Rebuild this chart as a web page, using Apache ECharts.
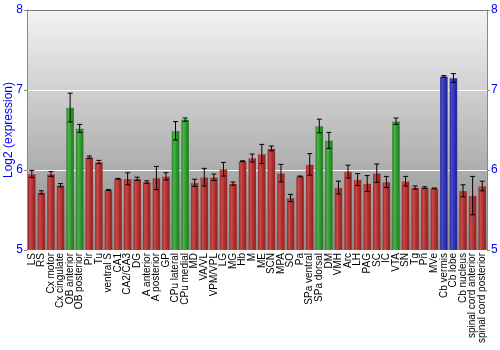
<!DOCTYPE html>
<html><head><meta charset="utf-8">
<script src="https://cdn.jsdelivr.net/npm/echarts@6/dist/echarts.min.js"></script>
<style>html,body{margin:0;padding:0;background:#fff}#c{width:500px;height:350px}</style>
</head><body><div id="c"></div>
<script>
const categories = ["LS","RS","Cx motor","Cx cingulate","OB anterior","OB posterior","Pir","Tu","ventral S","CA1","CA2/CA3","DG","A anterior","A posterior","GP","CPu lateral","CPu medial","MD","VA/VL","VPM/VPL","LG","MG","Hb","M","ME","SCN","MPA","SO","Pa","SPa ventral","SPa dorsal","DM","VMH","Arc","LH","PAG","SC","IC","VTA","SN","Tg","Pn","MVe","Cb vermis","Cb lobe","Cb nucleus","spinal cord anterior","spinal cord posterior"];
const values = [5.95,5.72,5.95,5.81,6.78,6.52,6.16,6.10,5.75,5.89,5.89,5.89,5.85,5.90,5.92,6.49,6.63,5.84,5.91,5.91,6.01,5.83,6.11,6.15,6.20,6.27,5.96,5.65,5.92,6.07,6.55,6.37,5.78,5.98,5.88,5.83,5.96,5.85,6.61,5.86,5.78,5.78,5.77,7.17,7.15,5.74,5.68,5.80];
const errors = [0.045,0.02,0.03,0.02,0.18,0.05,0.015,0.02,0.005,0.005,0.075,0.02,0.015,0.145,0.045,0.115,0.02,0.045,0.11,0.04,0.085,0.02,0.005,0.05,0.12,0.03,0.11,0.045,0.005,0.135,0.085,0.10,0.08,0.08,0.075,0.10,0.115,0.07,0.04,0.06,0.02,0.01,0.005,0.01,0.055,0.075,0.24,0.06];
const greenCats = ["OB anterior","OB posterior","CPu lateral","CPu medial","SPa dorsal","DM","VTA"];
const blueCats = ["Cb vermis","Cb lobe"];
const yTicks = [5,6,7,8];

function grad(c1,c2,c3){
  return new echarts.graphic.LinearGradient(0,0,1,0,[
    {offset:0,color:c3},{offset:0.3,color:c1},{offset:0.6,color:c2},{offset:1,color:c3}]);
}
const redG = grad('#c84a4a','#b03030','#8a2020');
const greenG = grad('#4ab44a','#2e9a2e','#1e701e');
const blueG = grad('#4a4ad0','#3030b4','#20208a');

const barData = values.map((v,i)=>{
  const name = categories[i];
  let c = redG;
  if (greenCats.includes(name)) c = greenG;
  if (blueCats.includes(name)) c = blueG;
  return {value:v,itemStyle:{color:c}};
});
const errData = values.map((v,i)=>[i, v-errors[i], v+errors[i]]);

const chart = echarts.init(document.getElementById('c'));
const yBase = {
  type:'value', min:5, max:8, interval:1,
  axisLine:{show:true,lineStyle:{color:'#888',width:1}},
  axisTick:{show:true,length:3,lineStyle:{color:'#888'}},
  axisLabel:{color:'#0000ff',fontSize:12,fontFamily:'Liberation Sans, Arial, sans-serif',margin:4,
    formatter:v=>yTicks.includes(v)?String(v):''}
};
chart.setOption({
  animation:false,
  grid:{left:27,right:13,top:10,bottom:100,show:true,borderWidth:0,outerBoundsMode:'none',containLabel:false,
    backgroundColor:new echarts.graphic.LinearGradient(0,0,0,1,[{offset:0,color:'#f3f3f3'},{offset:1,color:'#8a8a8a'}])},
  xAxis:{type:'category',data:categories,
    axisLine:{show:false},axisTick:{show:false},
    axisLabel:{interval:0,rotate:90,fontSize:10,color:'#000',margin:3,fontFamily:'Liberation Sans, Arial, sans-serif'}},
  yAxis:[
    Object.assign({},yBase,{position:'left',name:'Log2 (expression)',nameLocation:'middle',nameGap:12,nameMoveOverlap:false,
      nameTextStyle:{color:'#0000ff',fontSize:12,fontFamily:'Liberation Sans, Arial, sans-serif'},
      splitLine:{show:true,lineStyle:{color:['rgba(0,0,0,0)','#ffffff','#ffffff','#777777'],width:1}}}),
    Object.assign({},yBase,{position:'right',splitLine:{show:false}})
  ],
  series:[
    {type:'bar',data:barData,barCategoryGap:'16%',yAxisIndex:0,
      itemStyle:{borderColor:'rgba(255,255,255,0.15)',borderWidth:0.5}},
    {type:'custom',data:errData,yAxisIndex:0,z:5,
      renderItem:function(params,api){
        const x = api.value(0);
        const lo = api.coord([x,api.value(1)]);
        const hi = api.coord([x,api.value(2)]);
        const hw = 2.5;
        const st = {stroke:'#000',lineWidth:1};
        return {type:'group',children:[
          {type:'line',shape:{x1:lo[0],y1:lo[1],x2:hi[0],y2:hi[1]},style:st},
          {type:'line',shape:{x1:lo[0]-hw,y1:lo[1],x2:lo[0]+hw,y2:lo[1]},style:st},
          {type:'line',shape:{x1:hi[0]-hw,y1:hi[1],x2:hi[0]+hw,y2:hi[1]},style:st}
        ]};
      }}
  ]
});
</script></body></html>
